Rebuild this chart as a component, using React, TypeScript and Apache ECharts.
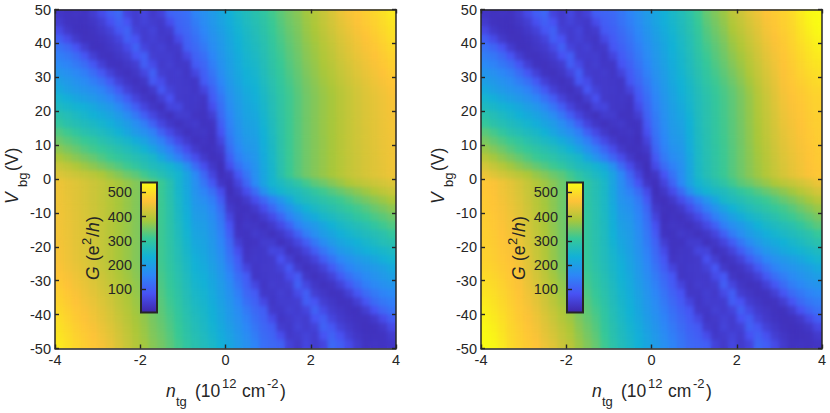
import React, { useEffect, useRef } from "react";
import * as echarts from "echarts";

const nTg = [-3.9,-3.7,-3.5,-3.3,-3.1,-2.9,-2.7,-2.5,-2.3,-2.1,-1.9,-1.7,-1.5,-1.3,-1.1,-0.9,-0.7,-0.5,-0.3,-0.1,0.1,0.3,0.5,0.7,0.9,1.1,1.3,1.5,1.7,1.9,2.1,2.3,2.5,2.7,2.9,3.1,3.3,3.5,3.7,3.9];
const vBg = [48.75,46.25,43.75,41.25,38.75,36.25,33.75,31.25,28.75,26.25,23.75,21.25,18.75,16.25,13.75,11.25,8.75,6.25,3.75,1.25,-1.25,-3.75,-6.25,-8.75,-11.25,-13.75,-16.25,-18.75,-21.25,-23.75,-26.25,-28.75,-31.25,-33.75,-36.25,-38.75,-41.25,-43.75,-46.25,-48.75];
const gridL: number[][] = [
[35,30,32,30,45,70,100,115,60,45,60,40,55,105,115,125,155,175,195,215,235,255,270,285,300,320,338,355,367,385,398,416,432,448,460,472,482,493,507,520],
[45,30,28,28,35,50,80,105,85,45,55,45,40,75,108,118,145,168,188,208,228,248,265,279,295,315,334,351,363,381,394,412,427,443,455,467,477,487,501,513],
[68,40,28,26,30,40,55,90,105,55,45,55,38,45,100,112,135,160,182,202,222,243,260,274,291,312,330,347,360,378,391,408,423,438,450,462,472,483,496,508],
[100,72,42,28,28,32,42,60,100,85,45,50,42,35,70,105,125,150,175,195,217,238,256,269,287,307,326,343,357,375,388,404,418,433,445,457,467,478,490,502],
[130,112,85,48,28,28,35,45,70,105,60,45,50,38,42,100,115,140,168,190,212,233,252,264,282,303,322,339,354,371,384,400,413,429,441,453,463,473,485,496],
[147,137,118,88,50,30,28,36,48,85,100,48,45,45,36,65,105,125,158,185,207,228,248,259,278,299,318,336,350,368,381,396,409,424,436,448,458,468,479,489],
[165,155,140,120,90,52,30,28,36,48,100,70,42,48,38,38,95,112,148,178,202,223,244,253,273,295,314,332,347,364,377,392,404,419,431,443,453,463,474,483],
[185,176,163,147,122,92,55,33,28,36,62,102,48,42,45,35,62,102,135,170,197,218,238,248,269,291,310,328,343,361,374,388,400,414,426,438,448,458,468,477],
[203,192,180,167,148,126,95,55,35,28,36,92,72,42,42,38,35,95,122,160,190,213,232,243,265,286,306,324,340,357,370,384,395,409,421,433,443,453,462,471],
[222,206,195,184,173,155,128,95,55,35,28,42,90,55,42,40,35,60,105,148,183,205,225,238,260,282,302,320,337,354,367,380,390,404,416,428,438,448,457,465],
[245,232,217,204,192,178,160,130,98,58,36,28,50,80,42,38,38,35,95,135,175,200,220,232,256,278,299,318,335,352,365,378,388,402,414,426,436,445,454,461],
[262,252,242,232,220,204,190,165,135,100,60,36,28,58,62,38,36,32,75,125,168,195,215,226,251,275,298,318,335,352,365,378,388,402,414,425,435,444,453,460],
[285,275,262,250,238,225,212,194,170,138,100,62,38,28,45,45,32,30,50,115,160,190,210,219,247,272,296,317,335,352,365,378,388,401,413,424,434,443,452,459],
[305,288,278,268,258,246,232,215,198,174,146,104,62,38,28,36,42,30,32,100,152,184,205,213,242,268,294,317,335,352,365,378,388,401,413,424,434,442,451,458],
[330,318,302,286,276,265,254,238,216,195,176,150,105,68,42,28,34,36,28,85,145,178,200,207,238,265,293,317,335,352,365,378,388,401,413,423,433,442,450,457],
[349,337,326,314,302,287,275,262,250,228,208,180,150,108,70,44,28,32,26,62,135,170,192,200,233,261,291,316,335,352,365,377,388,401,413,423,433,441,449,456],
[370,358,346,332,320,310,298,285,272,258,240,213,182,150,112,74,42,28,28,42,120,160,185,194,229,258,290,316,335,352,365,377,388,401,413,422,432,440,448,455],
[392,380,368,356,344,330,317,305,293,280,268,254,220,185,150,112,75,42,26,30,100,148,172,188,224,255,288,316,335,352,365,377,388,400,412,421,431,439,447,454],
[418,408,395,382,370,358,345,332,318,303,285,270,260,245,220,178,120,75,38,22,75,125,155,181,220,251,287,315,335,352,365,377,388,400,412,421,431,439,446,453],
[435,428,420,412,404,393,378,365,350,338,320,298,280,262,245,210,165,112,60,25,35,90,135,175,215,248,285,315,335,352,365,377,388,400,412,420,430,438,445,452],
[452,445,438,430,420,412,400,388,377,365,352,335,315,285,248,215,175,135,90,35,25,60,112,165,210,245,262,280,298,320,338,350,365,378,393,404,412,420,428,435],
[453,446,439,431,421,412,400,388,377,365,352,335,315,287,251,220,181,155,125,75,22,38,75,120,178,220,245,260,270,285,303,318,332,345,358,370,382,395,408,418],
[454,447,439,431,421,412,400,388,377,365,352,335,316,288,255,224,188,172,148,100,30,26,42,75,112,150,185,220,254,268,280,293,305,317,330,344,356,368,380,392],
[455,448,440,432,422,413,401,388,377,365,352,335,316,290,258,229,194,185,160,120,42,28,28,42,74,112,150,182,213,240,258,272,285,298,310,320,332,346,358,370],
[456,449,441,433,423,413,401,388,377,365,352,335,316,291,261,233,200,192,170,135,62,26,32,28,44,70,108,150,180,208,228,250,262,275,287,302,314,326,337,349],
[457,450,442,433,423,413,401,388,378,365,352,335,317,293,265,238,207,200,178,145,85,28,36,34,28,42,68,105,150,176,195,216,238,254,265,276,286,302,318,330],
[458,451,442,434,424,413,401,388,378,365,352,335,317,294,268,242,213,205,184,152,100,32,30,42,36,28,38,62,104,146,174,198,215,232,246,258,268,278,288,305],
[459,452,443,434,424,413,401,388,378,365,352,335,317,296,272,247,219,210,190,160,115,50,30,32,45,45,28,38,62,100,138,170,194,212,225,238,250,262,275,285],
[460,453,444,435,425,414,402,388,378,365,352,335,318,298,275,251,226,215,195,168,125,75,32,36,38,62,58,28,36,60,100,135,165,190,204,220,232,242,252,262],
[461,454,445,436,426,414,402,388,378,365,352,335,318,299,278,256,232,220,200,175,135,95,35,38,38,42,80,50,28,36,58,98,130,160,178,192,204,217,232,245],
[465,457,448,438,428,416,404,390,380,367,354,337,320,302,282,260,238,225,205,183,148,105,60,35,40,42,55,90,42,28,35,55,95,128,155,173,184,195,206,222],
[471,462,453,443,433,421,409,395,384,370,357,340,324,306,286,265,243,232,213,190,160,122,95,35,38,42,42,72,92,36,28,35,55,95,126,148,167,180,192,203],
[477,468,458,448,438,426,414,400,388,374,361,343,328,310,291,269,248,238,218,197,170,135,102,62,35,45,42,48,102,62,36,28,33,55,92,122,147,163,176,185],
[483,474,463,453,443,431,419,404,392,377,364,347,332,314,295,273,253,244,223,202,178,148,112,95,38,38,48,42,70,100,48,36,28,30,52,90,120,140,155,165],
[489,479,468,458,448,436,424,409,396,381,368,350,336,318,299,278,259,248,228,207,185,158,125,105,65,36,45,45,48,100,85,48,36,28,30,50,88,118,137,147],
[496,485,473,463,453,441,429,413,400,384,371,354,339,322,303,282,264,252,233,212,190,168,140,115,100,42,38,50,45,60,105,70,45,35,28,28,48,85,112,130],
[502,490,478,467,457,445,433,418,404,388,375,357,343,326,307,287,269,256,238,217,195,175,150,125,105,70,35,42,50,45,85,100,60,42,32,28,28,42,72,100],
[508,496,483,472,462,450,438,423,408,391,378,360,347,330,312,291,274,260,243,222,202,182,160,135,112,100,45,38,55,45,55,105,90,55,40,30,26,28,40,68],
[513,501,487,477,467,455,443,427,412,394,381,363,351,334,315,295,279,265,248,228,208,188,168,145,118,108,75,40,45,55,45,85,105,80,50,35,28,28,30,45],
[520,507,493,482,472,460,448,432,416,398,385,367,355,338,320,300,285,270,255,235,215,195,175,155,125,115,105,55,40,60,45,60,115,100,70,45,30,32,30,35],
];
const gridR: number[][] = [
[32,28,30,28,42,68,98,112,58,42,62,40,55,100,108,115,135,155,175,195,215,235,255,272,292,318,345,362,380,405,420,438,452,468,478,487,500,520,540,555],
[42,28,26,26,34,48,78,102,82,44,55,44,38,72,100,110,128,148,168,190,210,230,250,267,287,313,339,356,374,397,413,431,446,462,474,484,496,515,534,547],
[65,38,28,25,28,38,54,88,102,52,44,55,36,44,92,102,120,140,162,184,204,225,245,264,284,308,333,351,368,391,407,425,441,458,470,481,493,511,528,541],
[98,70,40,27,26,30,40,58,98,82,44,52,40,34,66,95,112,132,155,178,198,220,240,259,279,303,328,345,362,384,400,419,436,453,466,478,490,506,522,534],
[128,110,83,46,27,27,34,44,68,102,58,44,50,36,40,88,104,124,148,172,193,215,236,255,275,299,322,339,356,378,394,413,430,448,462,475,487,501,516,528],
[146,136,116,86,48,29,27,34,46,82,98,46,44,45,34,60,95,115,140,166,188,210,232,251,271,294,316,334,351,371,387,406,425,443,458,472,483,497,511,521],
[164,154,138,118,88,50,29,27,34,46,98,68,40,47,36,36,85,105,132,158,183,205,227,247,267,289,310,328,345,364,381,400,419,438,454,469,480,492,505,514],
[184,175,162,146,120,90,53,30,27,34,60,100,46,40,44,34,58,95,122,150,177,200,223,243,263,284,304,322,339,357,374,394,414,433,450,466,476,488,499,507],
[202,191,179,166,146,124,93,53,33,27,34,90,70,40,40,37,34,88,112,142,170,195,219,238,258,279,299,317,333,350,368,387,408,428,446,463,473,483,493,500],
[222,205,194,183,172,153,126,93,53,33,27,40,88,54,40,38,34,58,98,132,163,190,213,234,254,274,293,311,327,343,361,381,403,423,442,460,470,478,487,493],
[246,232,216,203,191,177,158,128,96,56,34,27,48,78,40,36,36,33,88,122,156,185,208,229,250,271,289,307,324,340,358,377,399,419,439,457,467,475,483,489],
[264,253,242,231,219,203,188,163,133,98,58,34,27,56,60,36,34,30,70,114,150,180,204,222,246,269,288,306,323,339,357,376,397,417,436,454,464,472,481,487],
[288,276,262,250,237,224,210,192,168,136,98,60,36,27,44,44,30,29,48,105,144,175,200,216,241,268,287,305,322,338,356,375,395,414,433,451,461,470,479,485],
[309,290,279,268,257,245,230,213,196,172,144,102,60,36,27,34,40,29,30,92,137,170,196,209,237,266,286,304,321,337,355,374,393,412,431,448,459,468,477,483],
[336,322,304,287,276,264,253,236,214,193,174,148,103,66,40,27,32,34,27,78,130,165,192,203,233,264,284,303,320,337,354,373,391,410,428,445,456,466,475,481],
[356,342,329,316,303,287,274,260,248,226,206,178,148,106,68,42,27,30,25,58,122,158,186,196,229,262,283,302,319,336,353,372,390,407,426,442,454,463,473,480],
[378,364,350,334,321,310,297,284,271,256,238,211,180,148,110,72,40,27,27,40,110,150,178,190,225,260,282,300,318,335,352,370,388,405,423,439,451,461,471,478],
[402,387,372,358,345,330,316,304,292,278,266,252,218,183,148,110,73,40,25,28,92,140,168,183,220,259,281,299,317,334,352,369,386,403,420,436,448,459,469,476],
[428,414,400,385,371,358,344,331,317,302,284,268,258,243,218,176,118,72,36,22,70,118,150,176,216,257,279,298,316,334,351,368,384,400,418,433,446,456,467,474],
[450,438,426,415,405,393,377,364,349,337,319,297,279,261,244,208,162,108,58,25,34,85,130,170,212,255,278,297,315,333,350,367,382,398,415,430,443,454,465,472],
[472,465,454,443,430,415,398,382,367,350,333,315,297,278,255,212,170,130,85,34,25,58,108,162,208,244,261,279,297,319,337,349,364,377,393,405,415,426,438,450],
[474,467,456,446,433,418,400,384,368,351,334,316,298,279,257,216,176,150,118,70,22,36,72,118,176,218,243,258,268,284,302,317,331,344,358,371,385,400,414,428],
[476,469,459,448,436,420,403,386,369,352,334,317,299,281,259,220,183,168,140,92,28,25,40,73,110,148,183,218,252,266,278,292,304,316,330,345,358,372,387,402],
[478,471,461,451,439,423,405,388,370,352,335,318,300,282,260,225,190,178,150,110,40,27,27,40,72,110,148,180,211,238,256,271,284,297,310,321,334,350,364,378],
[480,473,463,454,442,426,407,390,372,353,336,319,302,283,262,229,196,186,158,122,58,25,30,27,42,68,106,148,178,206,226,248,260,274,287,303,316,329,342,356],
[481,475,466,456,445,428,410,391,373,354,337,320,303,284,264,233,203,192,165,130,78,27,34,32,27,40,66,103,148,174,193,214,236,253,264,276,287,304,322,336],
[483,477,468,459,448,431,412,393,374,355,337,321,304,286,266,237,209,196,170,137,92,30,29,40,34,27,36,60,102,144,172,196,213,230,245,257,268,279,290,309],
[485,479,470,461,451,433,414,395,375,356,338,322,305,287,268,241,216,200,175,144,105,48,29,30,44,44,27,36,60,98,136,168,192,210,224,237,250,262,276,288],
[487,481,472,464,454,436,417,397,376,357,339,323,306,288,269,246,222,204,180,150,114,70,30,34,36,60,56,27,34,58,98,133,163,188,203,219,231,242,253,264],
[489,483,475,467,457,439,419,399,377,358,340,324,307,289,271,250,229,208,185,156,122,88,33,36,36,40,78,48,27,34,56,96,128,158,177,191,203,216,232,246],
[493,487,478,470,460,442,423,403,381,361,343,327,311,293,274,254,234,213,190,163,132,98,58,34,38,40,54,88,40,27,33,53,93,126,153,172,183,194,205,222],
[500,493,483,473,463,446,428,408,387,368,350,333,317,299,279,258,238,219,195,170,142,112,88,34,37,40,40,70,90,34,27,33,53,93,124,146,166,179,191,202],
[507,499,488,476,466,450,433,414,394,374,357,339,322,304,284,263,243,223,200,177,150,122,95,58,34,44,40,46,100,60,34,27,30,53,90,120,146,162,175,184],
[514,505,492,480,469,454,438,419,400,381,364,345,328,310,289,267,247,227,205,183,158,132,105,85,36,36,47,40,68,98,46,34,27,29,50,88,118,138,154,164],
[521,511,497,483,472,458,443,425,406,387,371,351,334,316,294,271,251,232,210,188,166,140,115,95,60,34,45,44,46,98,82,46,34,27,29,48,86,116,136,146],
[528,516,501,487,475,462,448,430,413,394,378,356,339,322,299,275,255,236,215,193,172,148,124,104,88,40,36,50,44,58,102,68,44,34,27,27,46,83,110,128],
[534,522,506,490,478,466,453,436,419,400,384,362,345,328,303,279,259,240,220,198,178,155,132,112,95,66,34,40,52,44,82,98,58,40,30,26,27,40,70,98],
[541,528,511,493,481,470,458,441,425,407,391,368,351,333,308,284,264,245,225,204,184,162,140,120,102,92,44,36,55,44,52,102,88,54,38,28,25,28,38,65],
[547,534,515,496,484,474,462,446,431,413,397,374,356,339,313,287,267,250,230,210,190,168,148,128,110,100,72,38,44,55,44,82,102,78,48,34,26,26,28,42],
[555,540,520,500,487,478,468,452,438,420,405,380,362,345,318,292,272,255,235,215,195,175,155,135,115,108,100,55,40,62,42,58,112,98,68,42,28,30,28,32],
];
const xTicks = { min: -4, max: 4, interval: 2 };
const yTicks = { min: -50, max: 50, interval: 10 };
const barTicks = [100, 200, 300, 400, 500];
const barMin = 5;
const barMax = 545;
const parula = ["#3e26a8", "#4852f4", "#2d87f7", "#12b1d6", "#37c897", "#abc739", "#fec338", "#f9fb14"];
const INK = "#262626";
const FONT = "Liberation Sans";
const MAIN = 17.5;
const SMALL = 13;

function heat(rows: number[][]) {
  const out: number[][] = [];
  rows.forEach((r, j) => r.forEach((v, i) => out.push([i, j, v])));
  return out;
}
const tx = (text: string, x: number, y: number, size: number, italic = false) => ({
  type: "text", silent: true,
  style: { text, x, y, fontSize: size, fontFamily: FONT, fontStyle: italic ? "italic" : "normal", fill: INK, textAlign: "left", textVerticalAlign: "bottom" },
});

function panelTitles(ox: number) {
  const xLabel = { type: "group", x: ox, y: 0, children: [
    tx("n", 166, 400, MAIN, true), tx("tg", 176, 408, SMALL), tx("(10", 195, 400, MAIN), tx("12", 222, 390, SMALL), tx("cm", 242, 400, MAIN), tx("-2", 267, 390, SMALL), tx(")", 280, 400, MAIN),
  ]};
  const yLabel = { type: "group", x: ox + 21, y: 205, rotation: Math.PI / 2, children: [
    tx("V", 1, 0, MAIN, true), tx("bg", 18, 8, SMALL), tx("(V)", 34, 0, MAIN),
  ]};
  const barLabel = { type: "group", x: ox + 102, y: 280, rotation: Math.PI / 2, children: [
    tx("G", 0, 0, MAIN, true), tx("(e", 19, 0, MAIN), tx("2", 35, -9, SMALL), tx("/", 43, 0, MAIN), tx("h", 48, 0, MAIN, true), tx(")", 58, 0, MAIN),
  ]};
  return [xLabel, yLabel, barLabel];
}

export default function App() {
  const heatRef = useRef<HTMLDivElement>(null);
  const topRef = useRef<HTMLDivElement>(null);
  useEffect(() => {
    const heatChart = echarts.init(heatRef.current!, null, { renderer: "svg", width: 830, height: 413 });
    const chart = echarts.init(topRef.current!, null, { renderer: "svg", width: 830, height: 413 });
    const panels = [{ ox: 55, rows: gridL, bx: 140 }, { ox: 481, rows: gridR, bx: 566 }];
    heatChart.setOption({
      animation: false,
      grid: panels.map((p) => ({ left: p.ox, top: 9.5, width: 341, height: 339 })),
      xAxis: panels.map((_, k) => ({ type: "category", gridIndex: k, data: nTg, show: false })),
      yAxis: panels.map((_, k) => ({ type: "category", gridIndex: k, data: vBg, inverse: true, show: false })),
      series: panels.map((p, k) => ({ type: "heatmap", xAxisIndex: k, yAxisIndex: k, data: heat(p.rows), progressive: 0 })),
      visualMap: { show: false, type: "continuous", seriesIndex: [0, 1], dimension: 2, min: barMin, max: barMax, inRange: { color: parula } },
    });

    const grids: any[] = [];
    const xAxes: any[] = [];
    const yAxes: any[] = [];
    const series: any[] = [];
    const line = { lineStyle: { color: INK, width: 1.5 } };
    const tick = { show: true, inside: true, length: 4, lineStyle: { color: INK, width: 1.4 } };
    const label = { color: INK, fontSize: 14.5, fontFamily: FONT, margin: 4 };
    panels.forEach((p, k) => {
      const g = k * 2;
      grids.push({ left: p.ox, top: 9.5, width: 341, height: 339 });
      grids.push({ left: p.bx, top: 181.5, width: 18, height: 131 });
      xAxes.push({ type: "value", gridIndex: g, position: "bottom", ...xTicks, z: 5, axisLine: { onZero: false, ...line }, axisTick: tick, splitLine: { show: false }, axisLabel: label });
      xAxes.push({ type: "value", gridIndex: g, position: "top", ...xTicks, z: 5, axisLine: { onZero: false, ...line }, axisTick: tick, splitLine: { show: false }, axisLabel: { show: false } });
      const xBar = xAxes.length;
      xAxes.push({ type: "category", gridIndex: g + 1, data: ["G"], show: false });
      yAxes.push({ type: "value", gridIndex: g, position: "left", ...yTicks, z: 5, axisLine: { onZero: false, ...line }, axisTick: tick, splitLine: { show: false }, axisLabel: label });
      yAxes.push({ type: "value", gridIndex: g, position: "right", ...yTicks, z: 5, axisLine: { onZero: false, ...line }, axisTick: tick, splitLine: { show: false }, axisLabel: { show: false } });
      const yBar = yAxes.length;
      yAxes.push({ type: "value", gridIndex: g + 1, position: "left", min: barMin, max: barMax, z: 5, axisLine: { show: false }, splitLine: { show: false },
        axisTick: { ...tick, length: 6, customValues: barTicks }, axisLabel: { ...label, margin: 8, customValues: barTicks } });
      series.push({ type: "bar", xAxisIndex: xBar, yAxisIndex: yBar, data: [barMax], barWidth: "100%",
        itemStyle: { borderColor: INK, borderWidth: 2, color: { type: "linear", x: 0, y: 1, x2: 0, y2: 0, colorStops: parula.map((c, i) => ({ offset: i / (parula.length - 1), color: c })) } } });
    });
    chart.setOption({
      animation: false,
      grid: grids, xAxis: xAxes, yAxis: yAxes, series,
      graphic: [...panelTitles(0), ...panelTitles(426)],
    });
    return () => { chart.dispose(); heatChart.dispose(); };
  }, []);
  const layer: React.CSSProperties = { position: "absolute", left: 0, top: 0, width: 830, height: 413 };
  return (
    <div style={{ ...layer, background: "#fff" }}>
      <svg width="0" height="0" style={{ position: "absolute" }}>
        <filter id="soft" x="0" y="0" width="1" height="1" colorInterpolationFilters="sRGB">
          <feGaussianBlur stdDeviation="1.9" result="b" />
          <feMerge><feMergeNode in="SourceGraphic" /><feMergeNode in="b" /></feMerge>
        </filter>
      </svg>
      <div style={{ ...layer, clipPath: 'path("M55 9.5h341v339h-341zM481 9.5h341v339h-341z")' }}>
        <div ref={heatRef} style={{ ...layer, filter: "url(#soft)" }} />
      </div>
      <div ref={topRef} style={layer} />
    </div>
  );
}
